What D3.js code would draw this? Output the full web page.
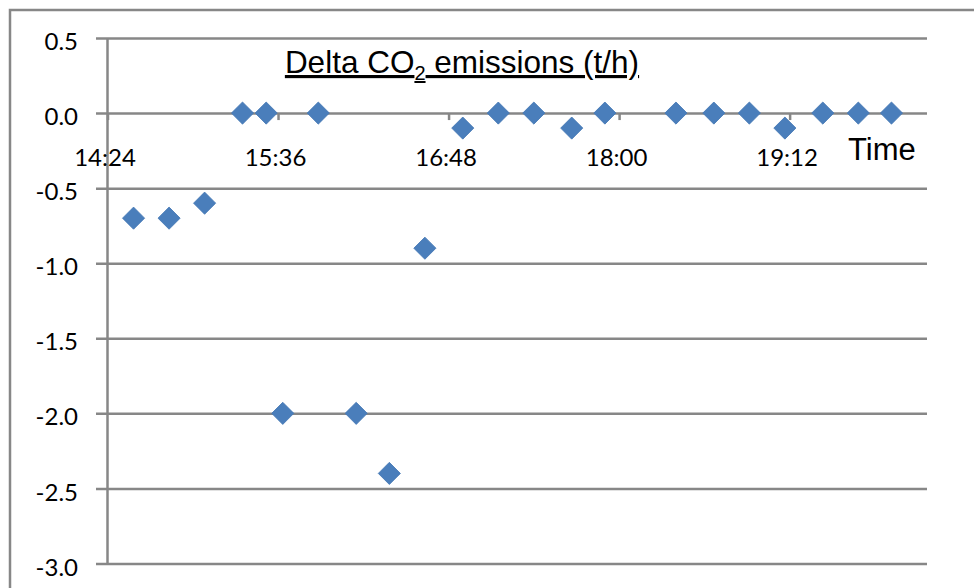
<!DOCTYPE html>
<html>
<head>
<meta charset="utf-8">
<script src="https://cdn.jsdelivr.net/npm/d3@7"></script>
<style>
  html, body { margin: 0; padding: 0; background: #fff; }
  svg { display: block; }
</style>
</head>
<body>
<svg id="chart" width="974" height="588"></svg>
<script>
// Sample times (hh:mm) and the change in CO2 emissions (t/h) at each
const sampleTimes = ["14:35", "14:50", "15:05", "15:21", "15:31", "15:38", "15:53", "16:09",
                     "16:23", "16:38", "16:54", "17:09", "17:24", "17:40", "17:54", "18:24",
                     "18:40", "18:55", "19:10", "19:26", "19:41", "19:55"];
const deltaCO2 = [-0.7, -0.7, -0.6, 0.0, 0.0, -2.0, 0.0, -2.0,
                  -2.4, -0.9, -0.1, 0.0, 0.0, -0.1, 0.0, 0.0,
                  0.0, 0.0, -0.1, 0.0, 0.0, 0.0];

// Axis settings
const timeRange = ["14:24", "20:10"];
const timeTickLabels = ["14:24", "15:36", "16:48", "18:00", "19:12"];
const valueTicks = [0.5, 0.0, -0.5, -1.0, -1.5, -2.0, -2.5, -3.0];

const parseTime = d3.timeParse("%H:%M");
const fmtTime = d3.timeFormat("%H:%M");

const svg = d3.select("#chart");
const gridColor = "#878787";
const markColor = "#4a7ebb";
const labelFont = "Lato, 'Open Sans', sans-serif";
const titleFont = "'Liberation Sans', Arial, sans-serif";

const x = d3.scaleTime()
  .domain(timeRange.map(parseTime))
  .range([107.5, 927]);
const y = d3.scaleLinear()
  .domain([-3, 0.5])
  .range([563.5, 38]);

// Outer chart frame (runs off the right and bottom edges)
svg.append("rect")
  .attr("x", 10).attr("y", 10)
  .attr("width", 1000).attr("height", 640)
  .attr("fill", "#fff")
  .attr("stroke", gridColor)
  .attr("stroke-width", 2.5);

// Horizontal gridlines, extending left of the axis as tick marks
const yAxis = d3.axisLeft(y)
  .tickValues(valueTicks)
  .tickSize(-(927 - 96))
  .tickFormat(d3.format(".1f"));
const gy = svg.append("g")
  .attr("transform", "translate(96,0)")
  .call(yAxis);
gy.select(".domain").remove();
gy.selectAll(".tick line")
  .attr("stroke", gridColor)
  .attr("stroke-width", 2.5);
gy.selectAll(".tick text")
  .attr("x", -18)
  .attr("dy", "0.36em")
  .attr("transform", "translate(0,3)")
  .attr("fill", "#000")
  .style("font-family", labelFont)
  .style("font-size", "24px")
  .text(d => d3.format(".1f")(d).replace("−", "-"));

// Vertical value axis line
svg.append("line")
  .attr("x1", x.range()[0]).attr("x2", x.range()[0])
  .attr("y1", y(0.5)).attr("y2", y(-3))
  .attr("stroke", gridColor)
  .attr("stroke-width", 2.5);

// Time axis sits on the zero line, ticks pointing down
const tickTimes = timeTickLabels.map(parseTime);
const xAxis = d3.axisBottom(x)
  .tickValues(tickTimes)
  .tickSize(7)
  .tickFormat(fmtTime);
const gx = svg.append("g")
  .attr("transform", `translate(0,${y(0)})`)
  .call(xAxis);
gx.select(".domain").remove();
gx.selectAll(".tick line")
  .attr("stroke", gridColor)
  .attr("stroke-width", 2.5);
gx.selectAll(".tick text")
  .attr("y", 53)
  .attr("dy", 0)
  .attr("x", -3)
  .attr("fill", "#000")
  .style("font-family", labelFont)
  .style("font-size", "24px");

// Diamond markers
const diamond = d3.symbol().type(d3.symbolSquare).size(245);
svg.append("g")
  .selectAll("path")
  .data(sampleTimes.map((t, i) => ({ t: parseTime(t), v: deltaCO2[i] })))
  .join("path")
  .attr("d", diamond)
  .attr("transform", d => `translate(${x(d.t)},${y(d.v)}) rotate(45)`)
  .attr("fill", markColor)
  .attr("stroke", "#4679b5")
  .attr("stroke-width", 0.8);

// Title (underlined)
const title = svg.append("text")
  .attr("x", 462)
  .attr("y", 73)
  .attr("text-anchor", "middle")
  .style("font-family", titleFont)
  .style("font-size", "31.5px")
  .style("text-decoration", "underline")
  .attr("fill", "#000");
title.append("tspan").text("Delta CO");
title.append("tspan")
  .attr("dy", 7)
  .style("font-size", "20px")
  .text("2");
title.append("tspan")
  .attr("dy", -7)
  .text(" emissions (t/h)");

// Axis title for the time axis
svg.append("text")
  .attr("x", 848)
  .attr("y", 160)
  .style("font-family", titleFont)
  .style("font-size", "31px")
  .attr("fill", "#000")
  .text("Time");
</script>
</body>
</html>
